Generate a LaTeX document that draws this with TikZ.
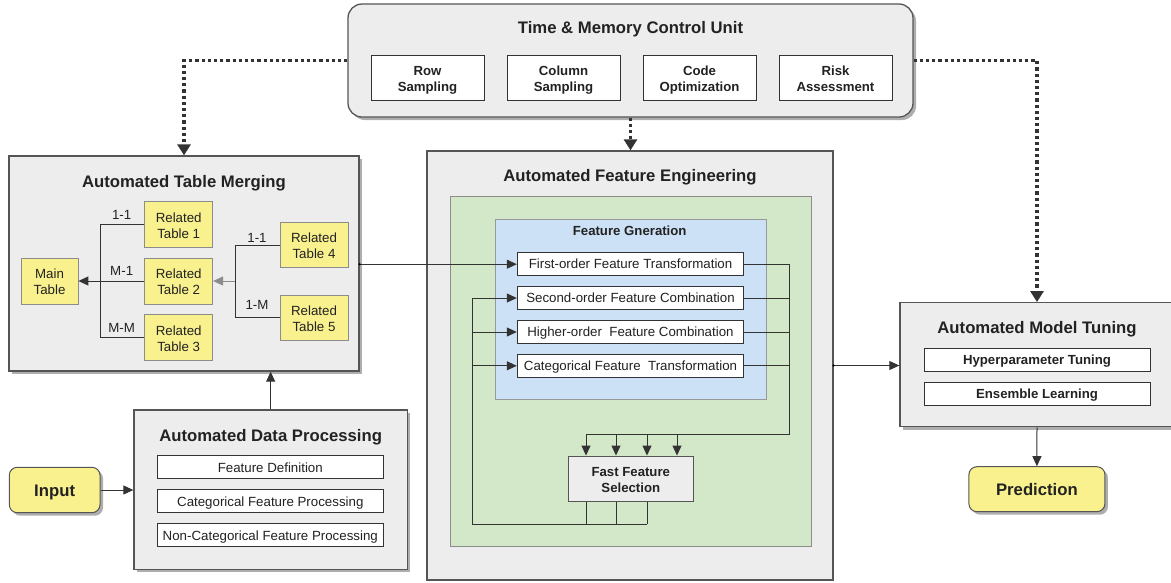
\documentclass[tikz,border=0pt]{standalone}
\usepackage{fontspec}
\setmainfont{Liberation Sans}
\usetikzlibrary{arrows.meta,shadows}
\definecolor{gfill}{HTML}{EDEDED}
\definecolor{gline}{HTML}{555555}
\definecolor{yfill}{HTML}{F9F18E}
\definecolor{grn}{HTML}{D3E8C8}
\definecolor{blu}{HTML}{CCE1F5}
\definecolor{txt}{HTML}{222222}
\definecolor{dk}{HTML}{333333}
\begin{document}
\begin{tikzpicture}[x=1pt,y=-1pt,
  every node/.style={text=txt,inner sep=0pt},
  ttl/.style={font=\fontsize{16.7}{20}\selectfont\bfseries,
    execute at begin node={\rule{0pt}{16pt}},execute at end node={\rule[-4pt]{0pt}{0pt}}},
  reg/.style={font=\fontsize{13.3}{16}\selectfont,
    execute at begin node={\rule{0pt}{12.6pt}},execute at end node={\rule[-3.1pt]{0pt}{0pt}}},
  bld/.style={font=\fontsize{13.2}{16}\selectfont\bfseries,
    execute at begin node={\rule{0pt}{12.6pt}},execute at end node={\rule[-3.1pt]{0pt}{0pt}}},
  ml/.style={execute at begin node={\rule{0pt}{30.5pt}}},
  shd/.style={drop shadow={shadow xshift=3pt,shadow yshift=-3pt,fill=black!45,opacity=0.7}},
  gbox/.style={draw=gline,line width=1.3pt,fill=gfill},
  wbox/.style={draw=dk,line width=1pt,fill=white,align=center},
  ybox/.style={draw=black!45,line width=0.8pt,fill=yfill,align=center,reg,ml},
  ln/.style={draw=dk,line width=1pt},
  arr/.style={draw=dk,line width=1pt,-{Triangle[length=10pt,width=9pt]}},
  darr/.style={draw=dk,line width=3.2pt,dash pattern=on 3.2pt off 3pt,-{Triangle[length=11pt,width=13pt]}},
  dotc/.style={fill=black,circle,minimum size=2.5pt}]
\useasboundingbox (0,0) rectangle (1171,582);
\clip (0,0) rectangle (1171,582);

% ---------- Time & Memory Control Unit ----------
\node[gbox,shd,rounded corners=14pt,minimum width=565pt,minimum height=113pt] (tmcu) at (630.5,60.5) {};
\node[ttl] (tmcut) at (630.5,27.5) {Time \& Memory Control Unit};
\node[wbox,bld,ml,minimum width=113pt,minimum height=45pt] (rs) at (427.5,77.5) {Row\\Sampling};
\node[wbox,bld,ml,minimum width=113pt,minimum height=45pt] (cs) at (563.5,77.5) {Column\\Sampling};
\node[wbox,bld,ml,minimum width=113pt,minimum height=45pt] (co) at (699.5,77.5) {Code\\Optimization};
\node[wbox,bld,ml,minimum width=113pt,minimum height=45pt] (ra) at (835.5,77.5) {Risk\\Assessment};

% ---------- Automated Table Merging ----------
\node[gbox,shd,minimum width=350pt,minimum height=215pt] (atm) at (184,263.5) {};
\node[ttl] (atmt) at (184,181) {Automated Table Merging};
\node[ybox,minimum width=57pt,minimum height=46pt] (mt) at (49.5,281) {Main\\Table};
\node[ybox,minimum width=68pt,minimum height=46pt] (rt1) at (178.7,224.5) {Related\\Table 1};
\node[ybox,minimum width=68pt,minimum height=46pt] (rt2) at (178.7,281) {Related\\Table 2};
\node[ybox,minimum width=68pt,minimum height=46pt] (rt3) at (178.7,337.5) {Related\\Table 3};
\node[ybox,minimum width=68pt,minimum height=45pt] (rt4) at (314,245) {Related\\Table 4};
\node[ybox,minimum width=68pt,minimum height=45pt] (rt5) at (314,317.5) {Related\\Table 5};
\coordinate (lv) at (100,0);
\coordinate (rv) at (235,0);
\draw[ln] (rt1.west) -- (rt1.west -| lv) -- (rt3.west -| lv) -- (rt3.west);
\draw[arr] (rt2.west) -- (mt.east);
\draw[ln] (rt4.west) -- (rt4.west -| rv) -- (rt5.west -| rv) -- (rt5.west);
\draw[arr,draw=black!45] (rt2.east -| rv) -- (rt2.east);
\node[reg] (l11) at (121.7,215) {1-1};
\node[reg] (lm1) at (121.7,271) {M-1};
\node[reg] (lmm) at (121.7,327.5) {M-M};
\node[reg] (r11) at (257,237.5) {1-1};
\node[reg] (r1m) at (257,304.5) {1-M};

% ---------- Automated Feature Engineering ----------
\node[gbox,minimum width=406pt,minimum height=429pt] (afe) at (630,365.5) {};
\node[ttl] (afet) at (630,175) {Automated Feature Engineering};
\node[draw=black!45,line width=1pt,fill=grn,minimum width=361.7pt,minimum height=350pt] (gr) at (630.85,371.7) {};
\node[draw=black!40,line width=1pt,fill=blu,minimum width=271.4pt,minimum height=180.3pt] (bl) at (631,309.15) {};
\node[bld] (fgt) at (629.7,231) {Feature Gneration};
\node[wbox,reg,minimum width=226.4pt,minimum height=23pt] (fo) at (630.5,264.2) {First-order Feature Transformation};
\node[wbox,reg,minimum width=226.4pt,minimum height=23pt] (so) at (630.5,298) {Second-order Feature Combination};
\node[wbox,reg,minimum width=226.4pt,minimum height=23pt] (ho) at (630.5,332) {Higher-order\ \ Feature Combination};
\node[wbox,reg,minimum width=226.4pt,minimum height=23pt] (cf) at (630.5,365.8) {Categorical Feature\ \ Transformation};
\node[draw=gline,line width=1pt,fill=gfill,align=center,bld,ml,minimum width=125pt,minimum height=45.3pt] (ffs) at (630.8,478.7) {Fast Feature\\Selection};
% collector to the right
\coordinate (rc) at (789,434);
\coordinate (lc) at (586,434);
\draw[ln] (fo.east) -| (rc) -- (lc);
\draw[ln] (so.east) -- (so.east -| rc);
\draw[ln] (ho.east) -- (ho.east -| rc);
\draw[ln] (cf.east) -- (cf.east -| rc);
\foreach \xx in {586,616,647,677} \draw[arr] (\xx,434) -- (\xx,434 |- ffs.north);
% feedback loop
\coordinate (bc) at (472.7,524);
\foreach \xx in {586,616,647} \draw[ln] (\xx,524 |- ffs.south) -- (\xx,524);
\draw[ln] (647,524) -- (bc) -- (bc |- so.west);
\draw[arr] (bc |- so.west) -- (so.west);
\draw[arr] (bc |- ho.west) -- (ho.west);
\draw[arr] (bc |- cf.west) -- (cf.west);

% ---------- Automated Model Tuning ----------
\node[gbox,shd,minimum width=274pt,minimum height=124pt] (amt) at (1037,364.7) {};
\node[ttl] (amtt) at (1037,327.7) {Automated Model Tuning};
\node[wbox,bld,minimum width=226pt,minimum height=22.3pt] (ht) at (1037,360) {Hyperparameter Tuning};
\node[wbox,bld,minimum width=226pt,minimum height=22.6pt] (el) at (1037,394) {Ensemble Learning};
\node[draw=gline,line width=1pt,fill=yfill,shd,rounded corners=8pt,ttl,minimum width=136pt,minimum height=45pt] (pred) at (1036.9,489.2) {Prediction};

% ---------- Automated Data Processing ----------
\node[gbox,shd,minimum width=273.3pt,minimum height=159.3pt] (adp) at (270.65,489.65) {};
\node[ttl] (adpt) at (270.65,435) {Automated Data Processing};
\node[wbox,reg,minimum width=226pt,minimum height=22.7pt] (fd) at (270.3,467.3) {Feature Definition};
\node[wbox,reg,minimum width=226pt,minimum height=22.7pt] (cfp) at (270.3,501.3) {Categorical Feature Processing};
\node[wbox,reg,minimum width=226pt,minimum height=22.7pt] (ncp) at (270.3,535.3) {Non-Categorical Feature Processing};
\node[draw=gline,line width=1pt,fill=yfill,shd,rounded corners=8pt,ttl,minimum width=90.7pt,minimum height=45.4pt] (inp) at (54.65,490) {Input};

% ---------- connectors ----------
\draw[arr] (inp.east) -- (inp.east -| adp.west);
\draw[arr] (adp.north) -- (adp.north |- atm.south);
\draw[arr] (atm.east |- fo.west) -- (fo.west);
\node[dotc] (d1) at (atm.east |- fo.west) {};
\draw[arr] (afe.east) -- (afe.east -| amt.west);
\node[dotc] (d2) at (afe.east) {};
\draw[arr] (amt.south) -- (pred.north);
\draw[darr] (tmcu.west) -| (atm.north);
\draw[darr] (tmcu.east) -| (amt.north);
\draw[darr] (tmcu.south) -- (tmcu.south |- afe.north);
\end{tikzpicture}
\end{document}
